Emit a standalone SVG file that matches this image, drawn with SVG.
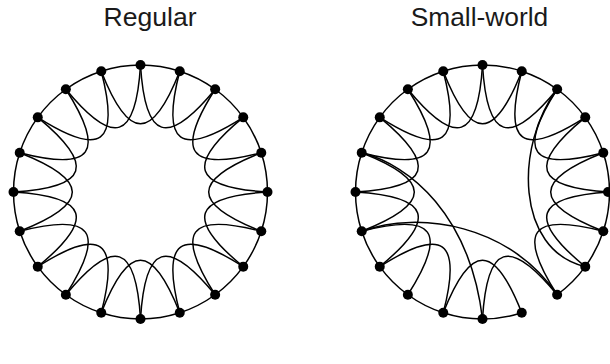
<svg xmlns="http://www.w3.org/2000/svg" width="610" height="364" viewBox="0 0 610 364">
<style>
.e{fill:none;stroke:#000;stroke-width:1.5}
.n circle{fill:#000}
.t{font-family:"Liberation Sans",Arial,Helvetica,sans-serif;font-size:25px;fill:#1a1a1a;text-anchor:middle}
</style>
<defs>
<path id="arc" d="M0,-127 A127,127 0 0 1 39.25,-120.78"/>
<path id="loop" d="M0,-127 C4.53,-51.8 26.78,-44.57 74.65,-102.75"/>
</defs>
<rect width="610" height="364" fill="#fff"/>
<text class="t" x="150" y="26" textLength="93" lengthAdjust="spacingAndGlyphs">Regular</text>
<text class="t" x="479.5" y="26" textLength="137.5" lengthAdjust="spacingAndGlyphs">Small-world</text>
<g id="connectors" class="e">
<g id="regular-edges" transform="translate(140.5 192)">
<use href="#arc"/><use href="#arc" transform="rotate(18)"/><use href="#arc" transform="rotate(36)"/><use href="#arc" transform="rotate(54)"/><use href="#arc" transform="rotate(72)"/><use href="#arc" transform="rotate(90)"/><use href="#arc" transform="rotate(108)"/><use href="#arc" transform="rotate(126)"/><use href="#arc" transform="rotate(144)"/><use href="#arc" transform="rotate(162)"/><use href="#arc" transform="rotate(180)"/><use href="#arc" transform="rotate(198)"/><use href="#arc" transform="rotate(216)"/><use href="#arc" transform="rotate(234)"/><use href="#arc" transform="rotate(252)"/><use href="#arc" transform="rotate(270)"/><use href="#arc" transform="rotate(288)"/><use href="#arc" transform="rotate(306)"/><use href="#arc" transform="rotate(324)"/><use href="#arc" transform="rotate(342)"/>
<use href="#loop"/><use href="#loop" transform="rotate(18)"/><use href="#loop" transform="rotate(36)"/><use href="#loop" transform="rotate(54)"/><use href="#loop" transform="rotate(72)"/><use href="#loop" transform="rotate(90)"/><use href="#loop" transform="rotate(108)"/><use href="#loop" transform="rotate(126)"/><use href="#loop" transform="rotate(144)"/><use href="#loop" transform="rotate(162)"/><use href="#loop" transform="rotate(180)"/><use href="#loop" transform="rotate(198)"/><use href="#loop" transform="rotate(216)"/><use href="#loop" transform="rotate(234)"/><use href="#loop" transform="rotate(252)"/><use href="#loop" transform="rotate(270)"/><use href="#loop" transform="rotate(288)"/><use href="#loop" transform="rotate(306)"/><use href="#loop" transform="rotate(324)"/><use href="#loop" transform="rotate(342)"/>
</g>
<g id="smallworld-edges" transform="translate(482.5 192)">
<use href="#arc"/><use href="#arc" transform="rotate(18)"/><use href="#arc" transform="rotate(36)"/><use href="#arc" transform="rotate(54)"/><use href="#arc" transform="rotate(72)"/><use href="#arc" transform="rotate(90)"/><use href="#arc" transform="rotate(108)"/><use href="#arc" transform="rotate(126)"/><use href="#arc" transform="rotate(162)"/><use href="#arc" transform="rotate(180)"/><use href="#arc" transform="rotate(198)"/><use href="#arc" transform="rotate(216)"/><use href="#arc" transform="rotate(234)"/><use href="#arc" transform="rotate(252)"/><use href="#arc" transform="rotate(270)"/><use href="#arc" transform="rotate(288)"/><use href="#arc" transform="rotate(306)"/><use href="#arc" transform="rotate(324)"/><use href="#arc" transform="rotate(342)"/>
<use href="#loop"/><use href="#loop" transform="rotate(18)"/><use href="#loop" transform="rotate(36)"/><use href="#loop" transform="rotate(54)"/><use href="#loop" transform="rotate(72)"/><use href="#loop" transform="rotate(90)"/><use href="#loop" transform="rotate(108)"/><use href="#loop" transform="rotate(144)"/><use href="#loop" transform="rotate(162)"/><use href="#loop" transform="rotate(198)"/><use href="#loop" transform="rotate(216)"/><use href="#loop" transform="rotate(234)"/><use href="#loop" transform="rotate(252)"/><use href="#loop" transform="rotate(270)"/><use href="#loop" transform="rotate(288)"/><use href="#loop" transform="rotate(306)"/><use href="#loop" transform="rotate(324)"/><use href="#loop" transform="rotate(342)"/>
<path d="M74.65,-102.75 C32.5,-47 32.5,58 102.75,74.65"/>
<path d="M-120.78,-39.25 C-72.5,-27 -12.5,23 0,127"/>
<path d="M-120.78,39.25 C-62.5,18 27.5,33 74.65,102.75"/>
</g>
</g>
<g id="regular-nodes" class="n">
<g id="r0"><circle cx="140.5" cy="65" r="5"/></g>
<g id="r1"><circle cx="179.75" cy="71.22" r="5"/></g>
<g id="r2"><circle cx="215.15" cy="89.25" r="5"/></g>
<g id="r3"><circle cx="243.25" cy="117.35" r="5"/></g>
<g id="r4"><circle cx="261.28" cy="152.75" r="5"/></g>
<g id="r5"><circle cx="267.5" cy="192" r="5"/></g>
<g id="r6"><circle cx="261.28" cy="231.25" r="5"/></g>
<g id="r7"><circle cx="243.25" cy="266.65" r="5"/></g>
<g id="r8"><circle cx="215.15" cy="294.75" r="5"/></g>
<g id="r9"><circle cx="179.75" cy="312.78" r="5"/></g>
<g id="r10"><circle cx="140.5" cy="319" r="5"/></g>
<g id="r11"><circle cx="101.25" cy="312.78" r="5"/></g>
<g id="r12"><circle cx="65.85" cy="294.75" r="5"/></g>
<g id="r13"><circle cx="37.75" cy="266.65" r="5"/></g>
<g id="r14"><circle cx="19.72" cy="231.25" r="5"/></g>
<g id="r15"><circle cx="13.5" cy="192" r="5"/></g>
<g id="r16"><circle cx="19.72" cy="152.75" r="5"/></g>
<g id="r17"><circle cx="37.75" cy="117.35" r="5"/></g>
<g id="r18"><circle cx="65.85" cy="89.25" r="5"/></g>
<g id="r19"><circle cx="101.25" cy="71.22" r="5"/></g>
</g>
<g id="smallworld-nodes" class="n">
<g id="s0"><circle cx="482.5" cy="65" r="5"/></g>
<g id="s1"><circle cx="521.75" cy="71.22" r="5"/></g>
<g id="s2"><circle cx="557.15" cy="89.25" r="5"/></g>
<g id="s3"><circle cx="585.25" cy="117.35" r="5"/></g>
<g id="s4"><circle cx="603.28" cy="152.75" r="5"/></g>
<g id="s5"><circle cx="608" cy="192" r="5"/></g>
<g id="s6"><circle cx="603.28" cy="231.25" r="5"/></g>
<g id="s7"><circle cx="585.25" cy="266.65" r="5"/></g>
<g id="s8"><circle cx="557.15" cy="294.75" r="5"/></g>
<g id="s9"><circle cx="521.75" cy="312.78" r="5"/></g>
<g id="s10"><circle cx="482.5" cy="319" r="5"/></g>
<g id="s11"><circle cx="443.25" cy="312.78" r="5"/></g>
<g id="s12"><circle cx="407.85" cy="294.75" r="5"/></g>
<g id="s13"><circle cx="379.75" cy="266.65" r="5"/></g>
<g id="s14"><circle cx="361.72" cy="231.25" r="5"/></g>
<g id="s15"><circle cx="355.5" cy="192" r="5"/></g>
<g id="s16"><circle cx="361.72" cy="152.75" r="5"/></g>
<g id="s17"><circle cx="379.75" cy="117.35" r="5"/></g>
<g id="s18"><circle cx="407.85" cy="89.25" r="5"/></g>
<g id="s19"><circle cx="443.25" cy="71.22" r="5"/></g>
</g>
</svg>
